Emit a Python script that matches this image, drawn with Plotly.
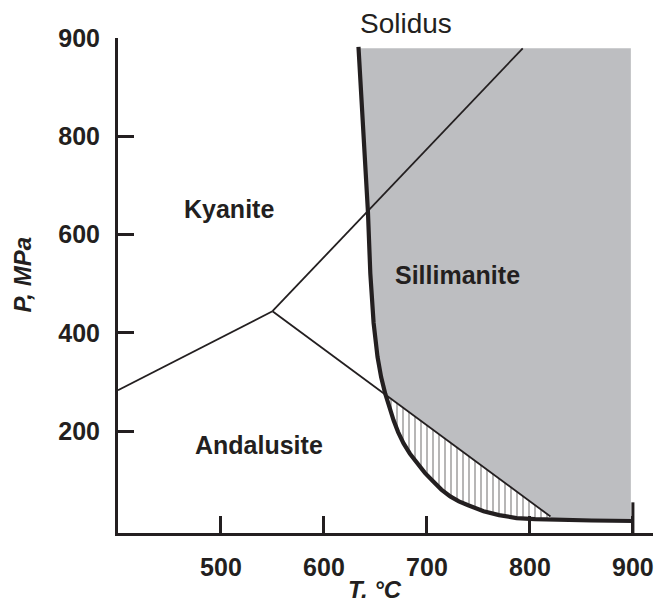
import plotly.graph_objects as go

# ---- data (T in °C, P in MPa as plotted) ----
solidus_T = [633.5, 637, 640, 642.7, 645, 648.2, 652, 655.5, 659.5, 663.5, 667.6,
             672, 677.3, 683.5, 690.3, 698, 706.4, 714, 722.6, 731, 740,
             755, 770, 787, 805, 820, 860, 900]
solidus_P = [982, 860, 725, 646, 521, 420, 351, 310, 276, 247, 222,
             198, 175, 154, 134, 115, 97, 81, 67, 57, 49,
             37, 29, 23, 21, 20, 18, 17]

ky_and_T = [400, 550]
ky_and_P = [283, 444]
ky_sil_T = [550, 793]
ky_sil_P = [444, 979]
and_sil_T = [550, 820]
and_sil_P = [444, 26]

field_top_P = 979
field_right_T = 898

cap_T = [900, 900]
cap_P = [-8, 55]

x_tickvals = [500, 600, 700, 800, 900]
x_ticktext = ["500", "600", "700", "800", "900"]
y_tickvals = [200, 400, 600, 800, 1000]
y_ticktext = ["200", "400", "600", "800", "900"]

labels = ["Kyanite", "Sillimanite", "Andalusite"]
label_T = [508, 730, 536.5]
label_P = [651, 518, 171]

INK = "#231f20"
GRAY = "#bdbec1"
FONT = "Liberation Sans, Arial, sans-serif"

# indices of solidus points at the intersections with the And-Sil line
i_cross = solidus_T.index(659.5)
i_end = solidus_T.index(820)

# Sillimanite + melt field (gray)
gray_T = (solidus_T[:i_cross + 1] + [and_sil_T[1]] + solidus_T[i_end:-1]
          + [field_right_T, field_right_T, solidus_T[0]])
gray_P = (solidus_P[:i_cross + 1] + [and_sil_P[1]] + solidus_P[i_end:-1]
          + [solidus_P[-2], field_top_P, field_top_P])
gray_T = [t if t < field_right_T else field_right_T for t in gray_T]

# hatched region between And-Sil line and solidus
hatch_T = [solidus_T[i_cross], and_sil_T[1]] + solidus_T[i_cross:i_end + 1][::-1]
hatch_P = [solidus_P[i_cross], and_sil_P[1]] + solidus_P[i_cross:i_end + 1][::-1]

fig = go.Figure()

fig.add_trace(go.Scatter(x=gray_T, y=gray_P, mode="lines", fill="toself",
                         fillcolor=GRAY, line=dict(width=0), hoverinfo="skip"))
fig.add_trace(go.Scatter(x=hatch_T, y=hatch_P, mode="lines", fill="toself",
                         fillcolor="white",
                         fillpattern=dict(shape="|", size=6, solidity=0.22,
                                          fgcolor=INK, bgcolor="white"),
                         line=dict(width=0), hoverinfo="skip"))

for xs, ys in [(ky_and_T, ky_and_P), (ky_sil_T, ky_sil_P), (and_sil_T, and_sil_P)]:
    fig.add_trace(go.Scatter(x=xs, y=ys, mode="lines",
                             line=dict(color=INK, width=1.8), hoverinfo="skip"))

fig.add_trace(go.Scatter(x=solidus_T, y=solidus_P, mode="lines",
                         line=dict(color=INK, width=4.2),
                         hoverinfo="skip"))
fig.add_trace(go.Scatter(x=cap_T, y=cap_P, mode="lines",
                         line=dict(color=INK, width=3), hoverinfo="skip",
                         cliponaxis=False))

for t, xx, yy in zip(labels, label_T, label_P):
    fig.add_annotation(x=xx, y=yy, text=t, showarrow=False,
                       font=dict(family=FONT, size=25, color=INK, weight="bold"))

fig.add_annotation(x=680, yref="paper", y=1.03, yanchor="middle", xanchor="center",
                   text="Solidus", showarrow=False,
                   font=dict(family=FONT, size=28, color=INK))
fig.add_annotation(xref="paper", x=-0.179, xanchor="center", y=519, yanchor="middle",
                   text="<i>P, MPa</i>", textangle=-90, showarrow=False,
                   font=dict(family=FONT, size=24, color=INK, weight="bold"))
fig.add_annotation(x=649.5, xanchor="center", yref="paper", y=-0.115, yanchor="middle",
                   text="<i>T. °C</i>", showarrow=False,
                   font=dict(family=FONT, size=24, color=INK, weight="bold"))

axis_common = dict(showline=True, linewidth=3, linecolor=INK, ticks="inside",
                   tickwidth=3, tickcolor=INK, showgrid=False, zeroline=False,
                   tickfont=dict(family=FONT, size=25, color=INK, weight="bold"),
                   ticklabelstandoff=10, automargin=False)

fig.update_xaxes(range=[400, 919.5], tickvals=x_tickvals, ticktext=x_ticktext,
                 ticklen=17, **axis_common)
fig.update_yaxes(range=[-7.4, 1000], tickvals=y_tickvals, ticktext=y_ticktext,
                 ticklen=16, **axis_common)

fig.update_layout(width=658, height=602, showlegend=False,
                  margin=dict(l=118, r=5, t=38, b=69),
                  plot_bgcolor="white", paper_bgcolor="white",
                  font=dict(family=FONT, color=INK))

fig.write_html("out.html", config={"displayModeBar": False},
               post_script="document.body.style.margin='0';document.body.style.overflow='hidden';")
